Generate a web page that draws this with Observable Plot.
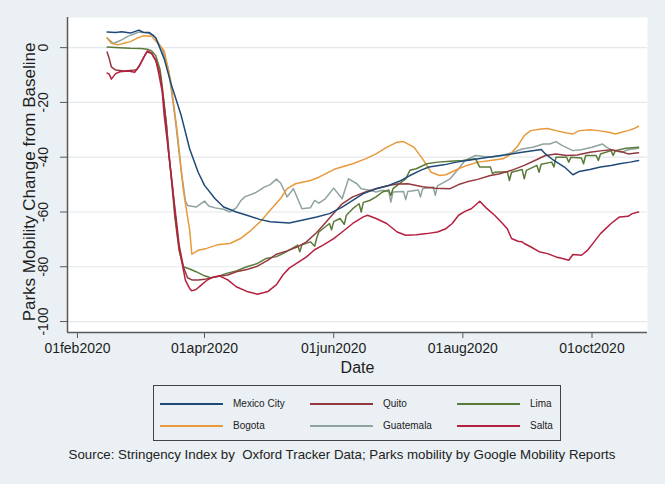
<!DOCTYPE html>
<html>
<head>
<meta charset="utf-8">
<script src="https://cdn.jsdelivr.net/npm/d3@7"></script>
<script src="https://cdn.jsdelivr.net/npm/@observablehq/plot@0.6"></script>
<style>
  html, body { margin: 0; padding: 0; }
  body { width: 665px; height: 484px; overflow: hidden; background: #eaf0f3; font-family: "Liberation Sans", Arial, sans-serif; position: relative; }
  #chart svg { display: block; }
  #legend { position: absolute; left: 153px; top: 385px; width: 408px; height: 56px; box-sizing: border-box; border: 1.5px solid #444; }
  .item { position: absolute; height: 14px; }
  .swatch { position: absolute; top: 6px; width: 63px; height: 0; border-top: 2px solid; }
  .lab { position: absolute; left: 73px; top: 0; font-size: 10px; line-height: 14px; color: #222; white-space: nowrap; }
  #caption { position: absolute; left: 0; width: 684px; top: 447px; text-align: center; font-size: 13.3px; color: #222; white-space: nowrap; }
</style>
</head>
<body>
<div id="chart"></div>
<div id="legend"></div>
<div id="caption">Source: Stringency Index by&nbsp; Oxford Tracker Data; Parks mobility by Google Mobility Reports</div>
<script>
const cities = ["Mexico City", "Quito", "Lima", "Bogota", "Guatemala", "Salta"];
const colors = ["#1f4a78", "#94383f", "#5b7a3a", "#e89a3c", "#8fa39f", "#b5203f"];

const yTicks = [0, -20, -40, -60, -80, -100];
const xTicks = ["2020-02-01", "2020-04-01", "2020-06-01", "2020-08-01", "2020-10-01"];

const mexicoCity = [
  ["2020-02-15",5.7],["2020-02-19",5.5],["2020-02-22",5.8],["2020-02-26",5.3],["2020-03-01",6.4],
  ["2020-03-03",5.6],["2020-03-06",5.5],["2020-03-09",3.6],["2020-03-13",-4.2],["2020-03-16",-12.7],
  ["2020-03-21",-24.8],["2020-03-25",-37],["2020-03-29",-45.5],["2020-04-01",-50.3],["2020-04-06",-55.2],
  ["2020-04-10",-58.2],["2020-04-16",-60],["2020-04-21",-61.2],["2020-04-27",-62.7],["2020-05-02",-63.6],
  ["2020-05-11",-64],["2020-05-17",-63],["2020-05-24",-61.8],["2020-05-30",-60.6],["2020-06-05",-58.2],
  ["2020-06-10",-55.8],["2020-06-15",-53.3],["2020-06-21",-51.5],["2020-06-27",-50.3],["2020-07-02",-48.8],
  ["2020-07-07",-46.7],["2020-07-12",-44.8],["2020-07-16",-43.6],["2020-07-23",-42.8],["2020-07-29",-41.8],
  ["2020-08-06",-40.8],["2020-08-13",-40],["2020-08-21",-39.2],["2020-08-29",-38.2],["2020-09-07",-37.2],
  ["2020-09-09",-38.8],["2020-09-13",-41.2],["2020-09-18",-43.6],["2020-09-22",-46.4],["2020-09-25",-45.2],
  ["2020-09-30",-44.5],["2020-10-05",-43.6],["2020-10-10",-43],["2020-10-14",-42.4],["2020-10-19",-41.8],
  ["2020-10-23",-41.2]
];

const quito = [
  ["2020-02-15",-1.6],["2020-02-16",-4],["2020-02-17",-7],["2020-02-19",-8.2],["2020-02-23",-8.5],
  ["2020-02-27",-8.3],["2020-02-29",-8],["2020-03-02",-5.5],["2020-03-04",-2.5],["2020-03-05",-1.5],
  ["2020-03-07",-2.2],["2020-03-09",-4.5],["2020-03-11",-9.5],["2020-03-12",-15],["2020-03-14",-28],
  ["2020-03-15",-38],["2020-03-17",-52],["2020-03-19",-65],["2020-03-20",-72],["2020-03-22",-80],
  ["2020-03-24",-84],["2020-03-26",-84.8],["2020-03-29",-84.8],["2020-04-01",-84.6],["2020-04-07",-83.6],
  ["2020-04-12",-83],["2020-04-16",-81.8],["2020-04-21",-81],["2020-04-26",-79.8],["2020-05-01",-77.6],
  ["2020-05-05",-75.4],["2020-05-10",-74.2],["2020-05-15",-72.7],["2020-05-19",-71],["2020-05-24",-67.5],
  ["2020-05-28",-64],["2020-06-01",-60.5],["2020-06-05",-57],["2020-06-10",-54.5],["2020-06-16",-52.7],
  ["2020-06-21",-51.5],["2020-06-27",-50.3],["2020-07-01",-49.8],["2020-07-06",-49.7],["2020-07-13",-50.8],
  ["2020-07-19",-51.3],["2020-07-26",-51.5],["2020-07-30",-50],["2020-08-03",-49],["2020-08-08",-48.1],
  ["2020-08-14",-46.7],["2020-08-18",-46.1],["2020-08-24",-44.8],["2020-08-30",-43],["2020-09-04",-41.2],
  ["2020-09-09",-39.4],["2020-09-14",-38.8],["2020-09-19",-39.4],["2020-09-24",-39.2],["2020-09-30",-38.2],
  ["2020-10-06",-37.6],["2020-10-10",-37.3],["2020-10-15",-38],["2020-10-18",-38.8],["2020-10-23",-38.4]
];

const lima = [
  ["2020-02-15",0.2],["2020-02-21",0],["2020-02-26",-0.2],["2020-03-02",-0.3],["2020-03-05",-0.6],
  ["2020-03-07",-1.2],["2020-03-09",-3],["2020-03-11",-8],["2020-03-12",-14],["2020-03-14",-28],
  ["2020-03-16",-45],["2020-03-18",-62],["2020-03-20",-74],["2020-03-22",-80],["2020-03-25",-80.8],
  ["2020-03-28",-81.8],["2020-04-01",-83.3],["2020-04-04",-84],["2020-04-07",-83.6],["2020-04-11",-82.5],
  ["2020-04-16",-81.5],["2020-04-21",-80],["2020-04-26",-78.8],["2020-04-30",-77],["2020-05-05",-76.3],
  ["2020-05-08",-75.2],["2020-05-11",-73.9],["2020-05-15",-72.1],["2020-05-16",-74.5],["2020-05-17",-72],
  ["2020-05-21",-70.9],["2020-05-23",-72.5],["2020-05-24",-69.5],["2020-05-25",-67.3],["2020-05-30",-64.2],
  ["2020-05-31",-66.5],["2020-06-01",-63.5],["2020-06-04",-62.4],["2020-06-06",-64.5],["2020-06-07",-61.2],
  ["2020-06-10",-58.8],["2020-06-13",-57],["2020-06-14",-60],["2020-06-15",-56.5],["2020-06-18",-55.8],
  ["2020-06-21",-54.5],["2020-06-24",-52.7],["2020-06-27",-52],["2020-06-28",-54],["2020-06-29",-51.5],
  ["2020-07-01",-50.3],["2020-07-05",-47.9],["2020-07-07",-44.8],["2020-07-10",-44.2],["2020-07-15",-42.4],
  ["2020-07-20",-41.8],["2020-07-26",-41.5],["2020-08-01",-41.2],["2020-08-07",-40.6],["2020-08-09",-43.6],
  ["2020-08-14",-43.6],["2020-08-15",-46],["2020-08-16",-45.5],["2020-08-22",-45.3],["2020-08-23",-48.5],
  ["2020-08-24",-45.5],["2020-08-29",-44.5],["2020-08-30",-47.9],["2020-08-31",-44.8],["2020-09-05",-43],
  ["2020-09-06",-45.5],["2020-09-07",-42.6],["2020-09-12",-41.8],["2020-09-13",-43.6],["2020-09-14",-40],
  ["2020-09-19",-40],["2020-09-20",-41.8],["2020-09-21",-40],["2020-09-26",-40.3],["2020-09-27",-42.4],
  ["2020-09-28",-39.4],["2020-10-03",-39.4],["2020-10-04",-41.2],["2020-10-05",-38.8],["2020-10-10",-37.6],
  ["2020-10-11",-39.4],["2020-10-12",-37.6],["2020-10-17",-36.7],["2020-10-23",-36.4]
];

const bogota = [
  ["2020-02-15",3.5],["2020-02-17",1.6],["2020-02-20",1],["2020-02-23",1.6],["2020-02-26",2.2],
  ["2020-02-29",3.4],["2020-03-03",4.3],["2020-03-07",4.2],["2020-03-10",1.5],["2020-03-13",-1.2],
  ["2020-03-16",-12],["2020-03-19",-30],["2020-03-22",-52],["2020-03-25",-66.7],["2020-03-26",-75.4],
  ["2020-03-29",-74],["2020-04-02",-73.3],["2020-04-07",-72],["2020-04-13",-71.5],["2020-04-18",-69.7],
  ["2020-04-23",-66.7],["2020-04-28",-63],["2020-05-02",-59.4],["2020-05-07",-55],["2020-05-10",-51.5],
  ["2020-05-14",-49.7],["2020-05-21",-48.5],["2020-05-25",-47.3],["2020-06-02",-44.2],["2020-06-10",-42.4],
  ["2020-06-16",-40.6],["2020-06-21",-38.8],["2020-06-26",-36.4],["2020-07-01",-34.5],["2020-07-04",-34.3],
  ["2020-07-09",-36.4],["2020-07-13",-40.6],["2020-07-17",-45.5],["2020-07-21",-46.7],["2020-07-24",-46.4],
  ["2020-07-30",-44.2],["2020-08-03",-43],["2020-08-08",-41.8],["2020-08-14",-41.2],["2020-08-20",-40.6],
  ["2020-08-23",-39.2],["2020-08-27",-35.8],["2020-08-30",-32.1],["2020-09-02",-30.3],["2020-09-07",-29.7],
  ["2020-09-10",-29.5],["2020-09-14",-30.3],["2020-09-19",-31.2],["2020-09-22",-31.5],["2020-09-25",-30.3],
  ["2020-09-30",-30],["2020-10-04",-30.3],["2020-10-09",-30.9],["2020-10-12",-31.5],["2020-10-15",-30.9],
  ["2020-10-18",-30.3],["2020-10-21",-29.5],["2020-10-23",-28.7]
];

const guatemala = [
  ["2020-02-15",3.5],["2020-02-18",1.5],["2020-02-21",2.5],["2020-02-25",4.2],["2020-03-01",5.7],
  ["2020-03-05",5.3],["2020-03-08",4.5],["2020-03-10",2],["2020-03-12",-0.5],["2020-03-15",-8],
  ["2020-03-18",-25],["2020-03-21",-45],["2020-03-23",-56],["2020-03-24",-57.6],["2020-03-28",-58.2],
  ["2020-04-01",-56],["2020-04-03",-57.8],["2020-04-06",-58.5],["2020-04-10",-59],["2020-04-13",-60],
  ["2020-04-16",-58.5],["2020-04-18",-56],["2020-04-20",-54.5],["2020-04-25",-53],["2020-04-29",-51],
  ["2020-05-02",-50],["2020-05-05",-48],["2020-05-07",-49.5],["2020-05-10",-54.5],["2020-05-13",-51.5],
  ["2020-05-17",-58.8],["2020-05-21",-58.5],["2020-05-23",-55.8],["2020-05-25",-56.8],["2020-05-28",-55.2],
  ["2020-06-01",-51.3],["2020-06-05",-55.2],["2020-06-08",-47.9],["2020-06-12",-49.7],["2020-06-14",-51.5],
  ["2020-06-18",-52.1],["2020-06-21",-52.7],["2020-06-24",-52.1],["2020-06-27",-52.5],["2020-06-28",-56.4],
  ["2020-06-29",-52.7],["2020-07-04",-52.5],["2020-07-05",-55.5],["2020-07-06",-52.5],["2020-07-11",-52],
  ["2020-07-12",-54.5],["2020-07-13",-51.5],["2020-07-18",-50.9],["2020-07-19",-53.9],["2020-07-20",-50.5],
  ["2020-07-26",-47.9],["2020-07-30",-44.2],["2020-08-02",-41.2],["2020-08-07",-39.4],["2020-08-14",-40],
  ["2020-08-20",-39.2],["2020-08-25",-38.2],["2020-08-29",-37],["2020-09-03",-36.4],["2020-09-08",-35.2],
  ["2020-09-11",-35.2],["2020-09-14",-34.3],["2020-09-17",-35.8],["2020-09-22",-37.6],["2020-09-26",-37.3],
  ["2020-10-01",-36.4],["2020-10-06",-35.2],["2020-10-08",-36.4],["2020-10-11",-37.6],["2020-10-15",-38.2],
  ["2020-10-18",-37.3],["2020-10-23",-36.7]
];

const salta = [
  ["2020-02-15",-9.3],["2020-02-16",-9.7],["2020-02-17",-11.5],["2020-02-19",-9.5],["2020-02-21",-8.8],
  ["2020-02-25",-8.5],["2020-02-28",-9],["2020-03-01",-7],["2020-03-03",-4],["2020-03-05",-1.2],
  ["2020-03-07",-2],["2020-03-09",-4.8],["2020-03-10",-8],["2020-03-12",-16],["2020-03-13",-25],
  ["2020-03-15",-38],["2020-03-17",-51.5],["2020-03-18",-60],["2020-03-19",-67],["2020-03-20",-73.3],
  ["2020-03-22",-81],["2020-03-23",-85],["2020-03-25",-88],["2020-03-26",-88.8],["2020-03-28",-88.3],
  ["2020-03-30",-87],["2020-04-02",-85],["2020-04-05",-83.8],["2020-04-08",-83.3],["2020-04-12",-84.8],
  ["2020-04-16",-87.3],["2020-04-21",-89],["2020-04-26",-90],["2020-05-01",-89],["2020-05-05",-86.5],
  ["2020-05-08",-83],["2020-05-11",-80.5],["2020-05-15",-78.5],["2020-05-19",-76.5],["2020-05-23",-73.8],
  ["2020-05-27",-72.1],["2020-06-01",-69.7],["2020-06-05",-67.3],["2020-06-10",-64.2],["2020-06-15",-61.8],
  ["2020-06-17",-61.2],["2020-06-21",-62.4],["2020-06-26",-64.2],["2020-07-01",-67.3],["2020-07-05",-68.5],
  ["2020-07-10",-68.3],["2020-07-15",-67.9],["2020-07-20",-67.3],["2020-07-24",-66.1],["2020-07-27",-64.2],
  ["2020-07-30",-61.2],["2020-08-02",-59.8],["2020-08-05",-58.8],["2020-08-09",-56.1],["2020-08-12",-58.5],
  ["2020-08-16",-61.2],["2020-08-19",-63.6],["2020-08-22",-66.1],["2020-08-24",-69.7],["2020-08-27",-70.7],
  ["2020-08-29",-70.9],["2020-08-30",-71.5],["2020-09-02",-72.7],["2020-09-06",-74.5],["2020-09-10",-75.2],
  ["2020-09-14",-76.4],["2020-09-18",-77.2],["2020-09-20",-77.6],["2020-09-22",-75.5],["2020-09-26",-75.8],
  ["2020-09-29",-73.9],["2020-10-02",-70.9],["2020-10-05",-67.9],["2020-10-10",-64.2],["2020-10-14",-61.8],
  ["2020-10-18",-61.6],["2020-10-20",-60.6],["2020-10-23",-60]
];

const seriesByCity = {"Mexico City": mexicoCity, "Quito": quito, "Lima": lima, "Bogota": bogota, "Guatemala": guatemala, "Salta": salta};
const drawOrder = ["Guatemala", "Bogota", "Lima", "Quito", "Salta", "Mexico City"];
const rows = drawOrder.flatMap(city => seriesByCity[city].map(([d, v]) => ({city, date: new Date(d + "T00:00:00Z"), value: v})));

const xDomain = [new Date(Date.UTC(2020, 0, 27, 7)), new Date(Date.UTC(2020, 9, 27, 5))];
const yDomain = [-104, 11];
const fmt = d => d3.utcFormat("%d%b%Y")(d).toLowerCase();

const chart = Plot.plot({
  width: 665,
  height: 377,
  marginLeft: 67,
  marginRight: 18,
  marginTop: 17,
  marginBottom: 45,
  style: {background: "transparent", fontFamily: "'Liberation Sans', Arial, sans-serif", color: "#1e1e1e", overflow: "visible"},
  x: {type: "utc", domain: xDomain},
  y: {domain: yDomain},
  color: {domain: cities, range: colors},
  marks: [
    Plot.frame({fill: "white", stroke: null}),
    Plot.gridY(yTicks, {stroke: "#e4e8ea", strokeOpacity: 1, strokeWidth: 1.2}),
    Plot.lineY(rows, {x: "date", y: "value", z: "city", stroke: "city", strokeWidth: 1.5, curve: "linear"}),
    Plot.ruleX([xDomain[0]], {stroke: "#5a5a5a", strokeWidth: 1.5}),
    Plot.ruleY([yDomain[0]], {stroke: "#5a5a5a", strokeWidth: 1.5}),
    Plot.axisY(yTicks, {tickSize: 7, tickFormat: () => "", stroke: "#5a5a5a", label: null}),
    Plot.text(yTicks, {x: xDomain[0], y: d => d, text: d => String(d), rotate: -90, dx: -24, textAnchor: "middle", lineAnchor: "middle", fontSize: 14}),
    Plot.axisX(xTicks.map(s => new Date(s + "T00:00:00Z")), {tickSize: 6, tickPadding: 5, stroke: "#5a5a5a", fontSize: 14, tickFormat: fmt, label: null}),
    Plot.text(["Date"], {text: d => d, frameAnchor: "bottom", dy: 40, fontSize: 16}),
    Plot.text(["Parks Mobility Change from Baseline"], {text: d => d, frameAnchor: "left", textAnchor: "middle", dx: -38, dy: 7, rotate: -90, fontSize: 17})
  ]
});
document.getElementById("chart").appendChild(chart);

// legend (3 columns x 2 rows, Stata style)
const legendPos = [
  {city: "Mexico City", x: 6, y: 11}, {city: "Quito", x: 156, y: 11}, {city: "Lima", x: 303, y: 11},
  {city: "Bogota", x: 6, y: 33}, {city: "Guatemala", x: 156, y: 33}, {city: "Salta", x: 303, y: 33}
];
const legend = document.getElementById("legend");
for (const p of legendPos) {
  const item = document.createElement("div");
  item.className = "item";
  item.style.left = p.x + "px";
  item.style.top = p.y + "px";
  const sw = document.createElement("div");
  sw.className = "swatch";
  sw.style.borderTopColor = colors[cities.indexOf(p.city)];
  const lab = document.createElement("div");
  lab.className = "lab";
  lab.textContent = p.city;
  item.appendChild(sw);
  item.appendChild(lab);
  legend.appendChild(item);
}
</script>
</body>
</html>
